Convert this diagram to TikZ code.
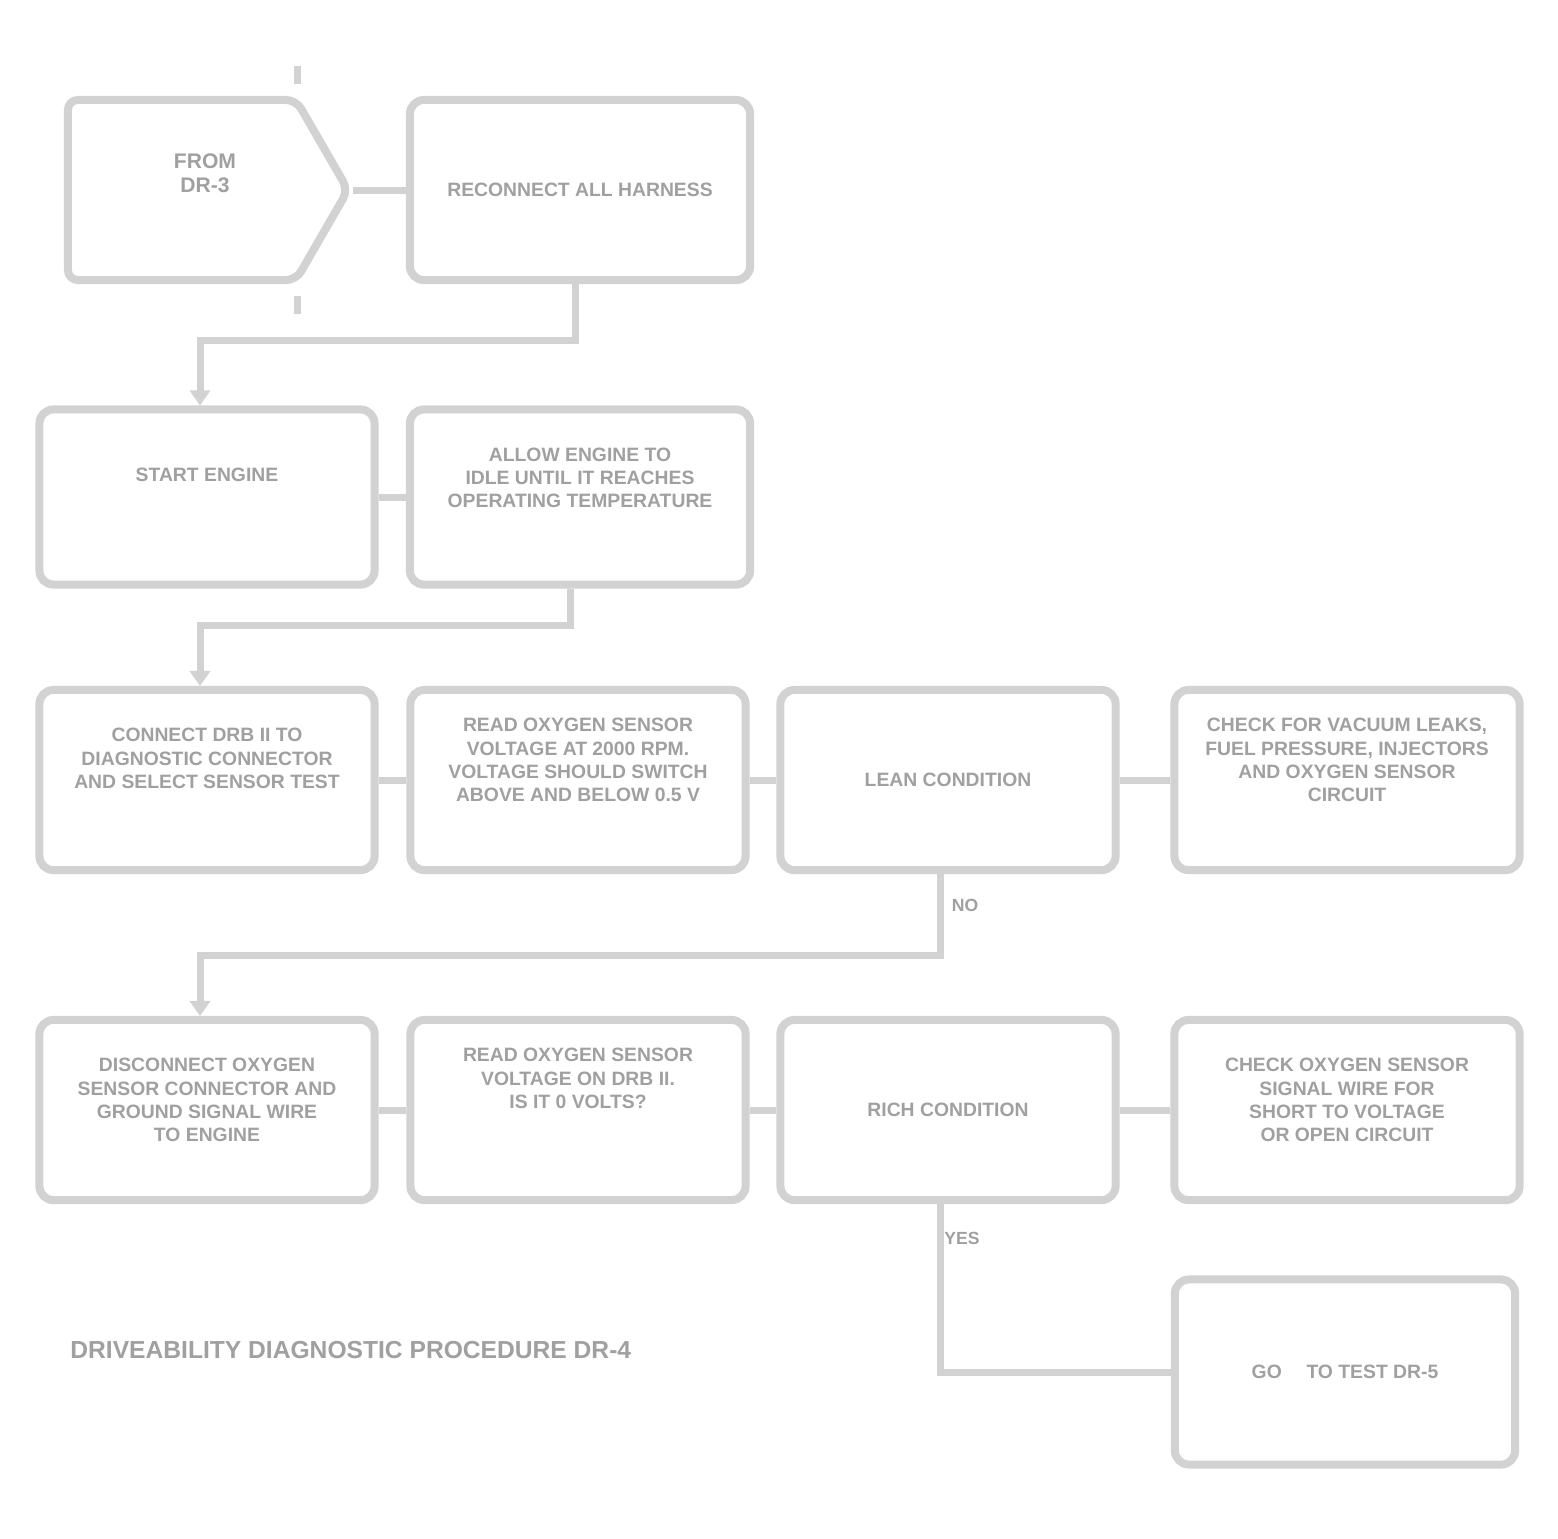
\documentclass[tikz,border=0pt]{standalone}
\usepackage{fontspec}
\setmainfont{Liberation Sans}
\usetikzlibrary{shapes.symbols,arrows.meta}
\definecolor{bordc}{HTML}{D2D2D2}
\definecolor{txtc}{HTML}{A0A0A0}
\tikzset{
  boxs/.style={draw=bordc,line width=0.08cm,rounded corners=0.14cm,fill=white,
    inner sep=0pt,text=txtc,font=\fontsize{5.5}{6.6}\selectfont\bfseries,align=center},
  lbl/.style={anchor=north,text=txtc,font=\fontsize{5.5}{6.6}\selectfont\bfseries,align=center},
  small/.style={text=txtc,font=\fontsize{5}{6}\selectfont\bfseries},
  conn/.style={draw=bordc,line width=0.07cm},
  arr/.style={conn,-{Triangle[length=0.15cm,width=0.2cm]}},
}
\begin{document}
\begin{tikzpicture}[x=0.01cm,y=-0.01cm]
\useasboundingbox[fill=white] (0,0) rectangle (1558,1538);
% row 1
\node[boxs,shape=signal,signal to=east,signal pointer angle=120,minimum width=2.8cm,minimum height=1.8cm,rounded corners=0.1cm] (a) at (182,190) {};
\node[lbl,font=\fontsize{6}{7}\selectfont\bfseries] (at) at (a.north) [xshift=0.23cm,yshift=-0.45cm] {FROM\\DR-3};
\node[boxs,minimum width=3.4cm,minimum height=1.8cm] (b) at (580,190) {RECONNECT ALL HARNESS};
% row 2
\node[boxs,minimum width=3.35cm,minimum height=1.75cm] (c) at (207,497) {};
\node[lbl] (ct) at (c.north) [yshift=-0.5cm] {START ENGINE};
\node[boxs,minimum width=3.4cm,minimum height=1.75cm] (d) at (580,497) {};
\node[lbl] (dt) at (d.north) [yshift=-0.3cm] {ALLOW ENGINE TO\\IDLE UNTIL IT REACHES\\OPERATING TEMPERATURE};
% row 3
\node[boxs,minimum width=3.35cm,minimum height=1.8cm] (e) at (207,780) {};
\node[lbl] (et) at (e.north) [yshift=-0.3cm] {CONNECT DRB II TO\\DIAGNOSTIC CONNECTOR\\AND SELECT SENSOR TEST};
\node[boxs,minimum width=3.35cm,minimum height=1.8cm] (f) at (578,780) {};
\node[lbl] (ft) at (f.north) [yshift=-0.2cm] {READ OXYGEN SENSOR\\VOLTAGE AT 2000 RPM.\\VOLTAGE SHOULD SWITCH\\ABOVE AND BELOW 0.5 V};
\node[boxs,minimum width=3.35cm,minimum height=1.8cm] (g) at (948,780) {LEAN CONDITION};
\node[boxs,minimum width=3.45cm,minimum height=1.8cm] (h) at (1347,780) {};
\node[lbl] (ht) at (h.north) [yshift=-0.2cm] {CHECK FOR VACUUM LEAKS,\\FUEL PRESSURE, INJECTORS\\AND OXYGEN SENSOR\\CIRCUIT};
% row 4
\node[boxs,minimum width=3.35cm,minimum height=1.8cm] (i) at (207,1110) {};
\node[lbl] (it) at (i.north) [yshift=-0.3cm] {DISCONNECT OXYGEN\\SENSOR CONNECTOR AND\\GROUND SIGNAL WIRE\\TO ENGINE};
\node[boxs,minimum width=3.35cm,minimum height=1.8cm] (j) at (578,1110) {};
\node[lbl] (jt) at (j.north) [yshift=-0.2cm] {READ OXYGEN SENSOR\\VOLTAGE ON DRB II.\\IS IT 0 VOLTS?};
\node[boxs,minimum width=3.35cm,minimum height=1.8cm] (k) at (948,1110) {RICH CONDITION};
\node[boxs,minimum width=3.45cm,minimum height=1.8cm] (l) at (1347,1110) {};
\node[lbl] (lt) at (l.north) [yshift=-0.3cm] {CHECK OXYGEN SENSOR\\SIGNAL WIRE FOR\\SHORT TO VOLTAGE\\OR OPEN CIRCUIT};
\node[boxs,minimum width=3.4cm,minimum height=1.85cm] (m) at (1345,1372) {GO \quad TO TEST DR-5};
% title
\node[anchor=west,text=txtc,font=\fontsize{7}{8}\selectfont\bfseries] (title) at (58,1350) {DRIVEABILITY DIAGNOSTIC PROCEDURE DR-4};
% helper coordinates
\coordinate (c1) at (200,340);
\coordinate (c2) at (200,625);
\coordinate (c3) at (200,955);
% connectors
\draw[conn] (a.east) -- (b.west);
\draw[conn] (a.north) ++(115,-12) -- ++(0,-18);
\draw[conn] (a.south) ++(115,12) -- ++(0,18);
\draw[arr] ([xshift=-0.05cm]b.south) |- (c1) -- (c1 |- c.north);
\draw[conn] (c.east) -- (d.west);
\draw[arr] ([xshift=-0.1cm]d.south) |- (c2) -- (c2 |- e.north);
\draw[conn] (e.east) -- (f.west);
\draw[conn] (f.east) -- (g.west);
\draw[conn] (g.east) -- (h.west);
\draw[arr] ([xshift=-0.08cm]g.south) |- (c3) -- (c3 |- i.north);
\node[small] (no1) at (965,905) {NO};
\draw[conn] (i.east) -- (j.west);
\draw[conn] (j.east) -- (k.west);
\draw[conn] (k.east) -- (l.west);
\draw[conn] ([xshift=-0.08cm]k.south) |- (m.west);
\node[small] (yes1) at (962,1238) {YES};
\end{tikzpicture}
\end{document}
